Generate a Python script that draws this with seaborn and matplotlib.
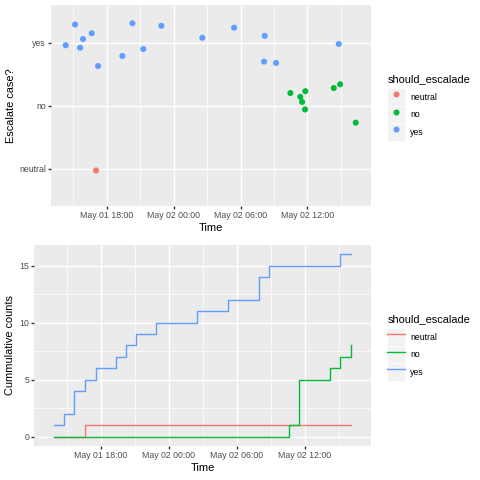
import numpy as np
import pandas as pd
import matplotlib
matplotlib.use("Agg")
import matplotlib.pyplot as plt
import matplotlib.dates as mdates
from matplotlib.ticker import MultipleLocator
from matplotlib.lines import Line2D
from matplotlib.patches import Rectangle
from matplotlib.legend_handler import HandlerLine2D
import seaborn as sns

base_time = pd.Timestamp("2019-05-01 18:00")
categories = ["neutral", "no", "yes"]
palette = ["#F8766D", "#00BA38", "#619CFF"]

# hours after May 01 18:00 when each case arrived
neutral_hours = [-1.36]
no_hours = [16.62, 17.50, 17.50, 17.50, 17.50, 20.21, 21.09, 22.07]
yes_hours = [-4.10, -3.21, -2.33, -2.33, -1.36, -0.44, 1.32, 2.21, 3.12,
             4.91, 8.53, 11.21, 13.95, 13.95, 14.83, 21.09]

# jitter of the points in the upper panel (hours / category units)
neutral_dx = [0.40]
neutral_dy = [-0.03]
no_dx = [-0.15, -0.14, 0.02, 0.31, 0.28, 0.15, -0.16, 0.26]
no_dy = [0.20, 0.14, 0.06, 0.23, -0.06, 0.28, 0.34, -0.27]
yes_dx = [0.42, 0.37, -0.06, 0.20, 0.01, -0.34, 0.08, 0.09, 0.16,
          -0.01, 0.04, 0.21, 0.22, 0.16, 0.35, -0.28]
yes_dy = [-0.04, 0.29, -0.08, 0.06, 0.15, -0.37, -0.21, 0.31, -0.10,
          0.27, 0.08, 0.24, 0.11, -0.30, -0.32, -0.02]


def make_events(label, hours, dx, dy):
    hours = np.array(hours)
    return pd.DataFrame({
        "time": base_time + pd.to_timedelta(hours, unit="h"),
        "should_escalade": label,
        "jit_time": base_time + pd.to_timedelta(hours + np.array(dx), unit="h"),
        "jit_y": categories.index(label) + 1 + np.array(dy),
    })


events = pd.concat([make_events("neutral", neutral_hours, neutral_dx, neutral_dy),
                    make_events("no", no_hours, no_dx, no_dy),
                    make_events("yes", yes_hours, yes_dx, yes_dy)],
                   ignore_index=True)

# cumulative counts at every event time
counts = pd.crosstab(events["time"], events["should_escalade"])
counts = counts.reindex(columns=categories, fill_value=0).cumsum()
cum = counts.reset_index().melt("time", var_name="should_escalade", value_name="count")

plt.rcParams["font.family"] = ["Liberation Sans", "DejaVu Sans"]

W = 480.0
fig = plt.figure(figsize=(4.8, 4.8), dpi=100)
ax1 = fig.add_axes([51 / W, 1 - 205.7 / W, 320 / W, 200.7 / W])
ax2 = fig.add_axes([34.3 / W, 1 - 445.7 / W, 336.4 / W, 200.7 / W])


def gg_style(ax):
    ax.set_facecolor("#EBEBEB")
    for s in ax.spines.values():
        s.set_visible(False)
    ax.set_axisbelow(True)
    ax.grid(which="major", color="white", lw=1.0)
    ax.grid(which="minor", color="white", lw=0.5)
    ax.tick_params(which="major", length=1.98, width=1.0, color="#333333",
                   labelsize=6.35, labelcolor="#4D4D4D", pad=1.6)
    ax.tick_params(which="minor", length=0)
    ax.xaxis.set_major_locator(mdates.HourLocator(byhour=[0, 6, 12, 18]))
    ax.xaxis.set_minor_locator(mdates.HourLocator(byhour=[3, 9, 15, 21]))
    ax.xaxis.set_major_formatter(mdates.DateFormatter("%b %d %H:%M"))


# upper panel: jittered points
sns.scatterplot(data=events, x="jit_time", y="jit_y", hue="should_escalade",
                hue_order=categories, palette=palette, s=19, linewidth=0,
                legend=False, ax=ax1)
gg_style(ax1)
ax1.set_xlim(base_time + pd.Timedelta(hours=-5.0), base_time + pd.Timedelta(hours=23.7))
ax1.set_ylim(0.41, 3.60)
ax1.set_yticks([1, 2, 3])
ax1.set_yticklabels(categories)
ax1.set_xlabel("Time", fontsize=7.9)
ax1.set_ylabel("Escalate case?", fontsize=7.9)
ax1.xaxis.set_label_coords(0.5, -0.085)
ax1.yaxis.set_label_coords((15.5 - 51) / 320, 0.5)

# lower panel: cumulative step lines
sns.lineplot(data=cum, x="time", y="count", hue="should_escalade",
             hue_order=categories, palette=palette, drawstyle="steps-post",
             estimator=None, lw=1.0, legend=False, ax=ax2)
gg_style(ax2)
ax2.set_xlim(base_time + pd.Timedelta(hours=-5.86), base_time + pd.Timedelta(hours=23.83))
ax2.set_ylim(-0.8, 16.8)
ax2.yaxis.set_major_locator(MultipleLocator(5))
ax2.yaxis.set_minor_locator(MultipleLocator(2.5))
ax2.set_xlabel("Time", fontsize=7.9)
ax2.set_ylabel("Cummulative counts", fontsize=7.9)
ax2.xaxis.set_label_coords(0.5, -0.085)
ax2.yaxis.set_label_coords((15.5 - 34.3) / 336.4, 0.5)


class KeyHandler(HandlerLine2D):
    def create_artists(self, legend, orig_handle, xdescent, ydescent,
                       width, height, fontsize, trans):
        bg = Rectangle((-xdescent, -ydescent), width, height, facecolor="#F2F2F2",
                       edgecolor="white", lw=0.5, transform=trans)
        arts = super().create_artists(legend, orig_handle, xdescent, ydescent,
                                      width, height, fontsize, trans)
        return [bg] + arts


def gg_legend(ax, handles, title_y):
    fig.text(387.3 / W, 1 - (title_y + 0.8) / W, "should_escalade", fontsize=7.9,
             va="center", ha="left")
    leg = ax.legend(handles, categories, loc="upper left",
                    bbox_to_anchor=(387.3 / W, 1 - (title_y + 10.0) / W),
                    bbox_transform=fig.transFigure, frameon=False,
                    fontsize=6.35, handlelength=2.0, handleheight=2.69,
                    labelspacing=0, handletextpad=0.6, borderpad=0,
                    borderaxespad=0, handler_map={Line2D: KeyHandler()})
    for t in leg.get_texts():
        t.set_color("black")


gg_legend(ax1, [Line2D([], [], marker="o", ls="", color=c, ms=4.3, mew=0)
                for c in palette], 78.3)
gg_legend(ax2, [Line2D([], [], color=c, lw=1.0) for c in palette], 318.3)

fig.savefig("out.png", dpi=100)
